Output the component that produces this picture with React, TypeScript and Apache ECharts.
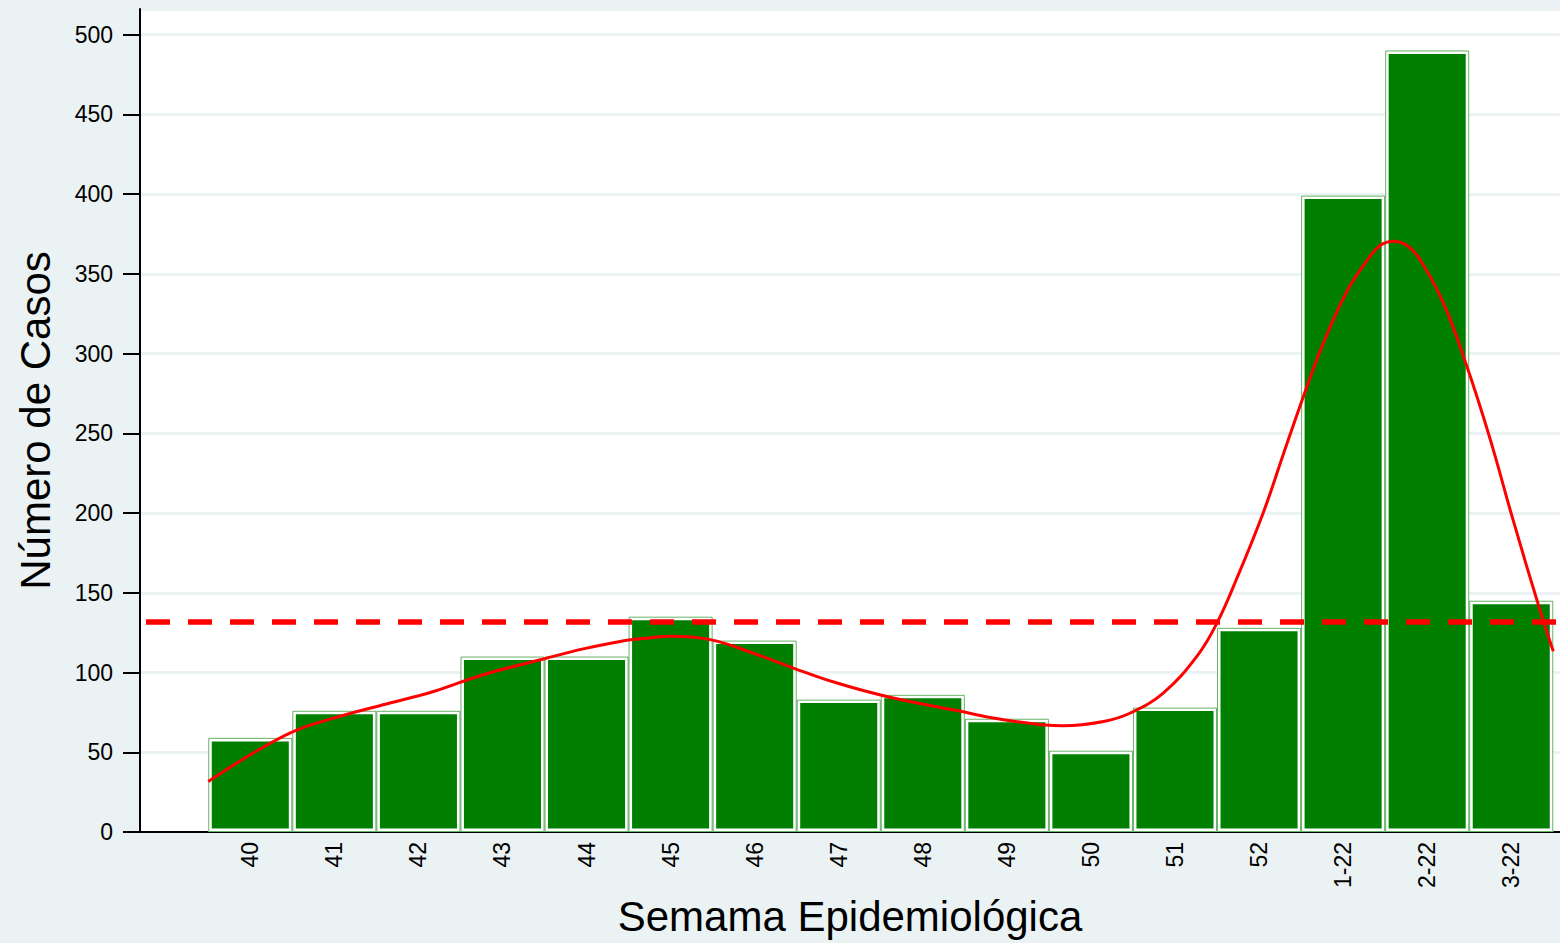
import React, { useEffect, useRef } from "react";
import * as echarts from "echarts";

const weeks = ["40", "41", "42", "43", "44", "45", "46", "47", "48", "49", "50", "51", "52", "1-22", "2-22", "3-22"];
const cases = [59, 76, 76, 110, 110, 135, 120, 83, 86, 71, 51, 78, 128, 399, 490, 145];

// smoothed trend (x in week-index units)
const trendX = [-0.5, 0, 0.51, 0.99, 1.58, 2.18, 2.77, 3.49, 3.96, 4.4, 4.75, 4.99, 5.47, 5.98, 6.46, 6.98, 7.57, 8.36, 8.96, 9.67, 10.15, 10.47, 10.86, 11.26, 11.5, 11.73, 12.05, 12.29, 12.53, 12.76, 13.04, 13.28, 13.44, 13.6, 13.76, 13.91, 14.19, 14.47, 14.75, 15.02, 15.34, 15.5];
const trendY = [31.6, 48.4, 63, 71.4, 79.8, 88.1, 98.6, 108.5, 114.8, 119.5, 121.7, 122.7, 120.6, 112.2, 102.8, 93.4, 85, 76.6, 70.4, 66.6, 69.3, 74.6, 87.1, 110.1, 131.1, 158.3, 200.2, 237, 273.4, 305.9, 338.4, 358, 367.7, 370.4, 367.7, 359.3, 332, 292.3, 246.2, 196, 139.4, 113.3];

const threshold = 132;

const X_MIN = -1.312;
const X_MAX = 15.58;
const Y_MIN = 0;
const Y_MAX = 516;
const Y_STEP = 50;

const FONT = "'Liberation Sans', Arial, Helvetica, sans-serif";
const BG = "#EAF2F3";

export default function App() {
  const ref = useRef<HTMLDivElement>(null);

  useEffect(() => {
    document.body.style.margin = "0";
    if (!ref.current) return;
    const chart = echarts.init(ref.current, undefined, { renderer: "svg" });
    const option: any = {
      animation: false,
      backgroundColor: BG,
      textStyle: { fontFamily: FONT },
      grid: {
        left: 140,
        right: 0,
        top: 9,
        bottom: 111,
        show: true,
        backgroundColor: "#FFFFFF",
        borderWidth: 0,
      },
      xAxis: {
        type: "value",
        min: X_MIN,
        max: X_MAX,
        name: "Semama Epidemiológica",
        nameLocation: "middle",
        nameGap: 57,
        nameTextStyle: { fontSize: 42, color: "#000", fontFamily: FONT },
        axisLine: { show: true, onZero: false, lineStyle: { color: "#000", width: 2 } },
        axisTick: { show: false },
        splitLine: { show: false },
        axisLabel: {
          customValues: weeks.map((_, i) => i),
          formatter: (v: number) => weeks[Math.round(v)] ?? "",
          rotate: 90,
          margin: 10,
          fontSize: 23,
          color: "#000",
          fontFamily: FONT,
        },
      },
      yAxis: {
        type: "value",
        min: Y_MIN,
        max: Y_MAX,
        interval: Y_STEP,
        name: "Número de Casos",
        nameLocation: "middle",
        nameRotate: 90,
        nameGap: 84,
        nameTextStyle: { fontSize: 42, color: "#000", fontFamily: FONT },
        axisLine: { show: true, onZero: false, lineStyle: { color: "#000", width: 2 } },
        axisTick: { show: true, length: 17, lineStyle: { color: "#000", width: 2 } },
        axisLabel: {
          margin: 27,
          fontSize: 23,
          color: "#000",
          fontFamily: FONT,
          showMaxLabel: false,
        },
        splitLine: { show: true, lineStyle: { color: BG, width: 3 } },
      },
      series: [
        {
          type: "bar",
          data: cases.map((v, i) => [i, v]),
          barWidth: "100%",
          barGap: "-100%",
          itemStyle: { color: "#007F00", borderColor: "#FFFFFF", borderWidth: 3.5 },
          silent: true,
        },
        {
          type: "bar",
          data: cases.map((v, i) => [i, v]),
          barWidth: "100%",
          barGap: "-100%",
          itemStyle: { color: "rgba(0,0,0,0)", borderColor: "rgba(0,128,0,0.6)", borderWidth: 1 },
          silent: true,
        },
        {
          type: "line",
          data: trendX.map((x, i) => [x, trendY[i]]),
          smooth: 0.4,
          symbol: "none",
          lineStyle: { color: "#FF0000", width: 3 },
          z: 5,
          markLine: {
            silent: true,
            symbol: "none",
            label: { show: false },
            lineStyle: { color: "#FF0000", width: 5.5, type: [24, 18], dashOffset: 36 },
            data: [{ yAxis: threshold }],
          },
        },
      ],
    };
    chart.setOption(option);
    return () => chart.dispose();
  }, []);

  return <div ref={ref} style={{ width: 1560, height: 943 }} />;
}
